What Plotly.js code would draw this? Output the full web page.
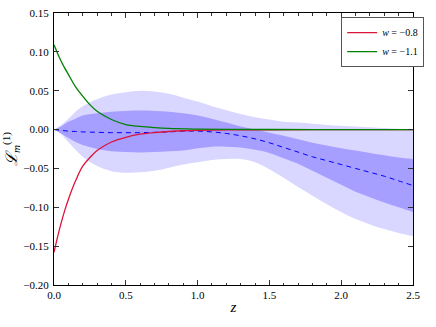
<!DOCTYPE html>
<html><head><meta charset="utf-8">
<script src="https://cdn.plot.ly/plotly-3.0.1.min.js"></script>
<style>html,body{margin:0;padding:0;background:#fff}#chart{width:436px;height:327px}</style>
</head><body><div id="chart"></div>
<script>
// band grid (z) and band edges
const zBand = [0,0.05,0.1,0.15,0.2,0.3,0.4,0.5,0.6,0.7,0.8,0.9,1.0,1.1,1.2,1.3,1.4,1.5,1.6,1.7,1.8,1.9,2.0,2.1,2.2,2.3,2.4,2.5];
const outerHi = [0,0.006,0.014,0.023,0.030,0.039,0.045,0.048,0.050,0.049,0.046,0.041,0.036,0.030,0.025,0.020,0.016,0.013,0.010,0.009,0.0075,0.006,0.005,0.004,0.003,0.002,0.001,0.0005];
const outerLo = [0,-0.006,-0.016,-0.026,-0.035,-0.047,-0.0535,-0.0555,-0.055,-0.053,-0.049,-0.045,-0.042,-0.039,-0.038,-0.038,-0.042,-0.051,-0.062,-0.074,-0.085,-0.096,-0.106,-0.115,-0.122,-0.128,-0.133,-0.137];
const innerHi = [0,0.004,0.010,0.014,0.018,0.021,0.023,0.024,0.0245,0.024,0.023,0.021,0.018,0.014,0.009,0.004,0.000,-0.004,-0.008,-0.0125,-0.017,-0.0205,-0.024,-0.027,-0.030,-0.033,-0.036,-0.038];
const innerLo = [0,-0.005,-0.011,-0.016,-0.020,-0.025,-0.028,-0.029,-0.0295,-0.029,-0.028,-0.027,-0.024,-0.022,-0.022,-0.023,-0.026,-0.030,-0.037,-0.044,-0.053,-0.062,-0.071,-0.080,-0.087,-0.094,-0.100,-0.106];
const center = [0,-0.001,-0.002,-0.0025,-0.003,-0.0035,-0.004,-0.004,-0.004,-0.0035,-0.003,-0.002,-0.002,-0.003,-0.005,-0.008,-0.012,-0.017,-0.023,-0.029,-0.035,-0.040,-0.045,-0.050,-0.055,-0.060,-0.066,-0.072];
// model curves
const zLine = [0,0.025,0.05,0.075,0.1,0.15,0.2,0.25,0.3,0.4,0.5,0.6,0.7,0.8,0.9,1.0,1.2,1.5,2.0,2.5];
const red08 = [-0.158,-0.138,-0.120,-0.104,-0.090,-0.066,-0.047,-0.036,-0.027,-0.016,-0.010,-0.006,-0.004,-0.0025,-0.0015,-0.001,-0.0005,-0.0002,0,0];
const green11 = [0.109,0.098,0.088,0.079,0.071,0.055,0.043,0.032,0.0235,0.013,0.0065,0.004,0.0025,0.0015,0.001,0.0005,0.0003,0.0001,0,0];
const names = ['<i>w</i> = −0.8','<i>w</i> = −1.1'];
const xTicks = [0,0.5,1.0,1.5,2.0,2.5];
const xTickText = ['0.0','0.5','1.0','1.5','2.0','2.5'];
const yTicks = [-0.20,-0.15,-0.10,-0.05,0,0.05,0.10,0.15];
const yTickText = ['−0.20','−0.15','−0.10','−0.05','0.00','0.05','0.10','0.15'];

const light = '#d9d6ff', dark = '#a79fff';
const traces = [
  {x:zBand,y:outerLo,mode:'lines',line:{width:0,color:light,shape:'spline'},showlegend:false,hoverinfo:'skip'},
  {x:zBand,y:outerHi,mode:'lines',line:{width:0,color:light,shape:'spline'},fill:'tonexty',fillcolor:light,showlegend:false,hoverinfo:'skip'},
  {x:zBand,y:innerLo,mode:'lines',line:{width:0,color:dark,shape:'spline'},showlegend:false,hoverinfo:'skip'},
  {x:zBand,y:innerHi,mode:'lines',line:{width:0,color:dark,shape:'spline'},fill:'tonexty',fillcolor:dark,showlegend:false,hoverinfo:'skip'},
  {x:zBand,y:center,mode:'lines',line:{color:'#0000ff',width:1,dash:'5px,4px',shape:'spline'},showlegend:false},
  {x:zLine,y:red08,mode:'lines',name:names[0],line:{color:'#dc143c',width:1.3,shape:'spline'}},
  {x:zLine,y:green11,mode:'lines',name:names[1],line:{color:'#008000',width:1.3,shape:'spline'}}
];
const serif = 'Liberation Serif, DejaVu Serif, serif';
const tickFont = {family:serif,size:11,color:'#000'};
const layout = {
  width:436,height:327,
  margin:{l:54,r:18,t:13,b:42},
  paper_bgcolor:'#fff',plot_bgcolor:'#fff',
  font:tickFont,
  showlegend:true,
  legend:{x:0.80,y:0.985,xanchor:'left',yanchor:'top',bgcolor:'#fff',bordercolor:'#555',borderwidth:1,traceorder:'normal',
          font:{family:serif,size:10,color:'#000'},tracegroupgap:0,itemwidth:30},
  xaxis:{range:[0,2.5],tickvals:xTicks,ticktext:xTickText,ticks:'inside',ticklen:5,tickcolor:'#333',
         showline:true,linecolor:'#000',linewidth:1,mirror:'allticks',showgrid:false,zeroline:false,
         minor:{dtick:0.1,ticks:'inside',ticklen:2.5,tickcolor:'#333',showgrid:false},
         tickfont:tickFont,ticklabelstandoff:0,
         title:{text:'<i>z</i>',font:{family:serif,size:15,color:'#000'},standoff:1}},
  yaxis:{range:[-0.20,0.15],tickvals:yTicks,ticktext:yTickText,ticks:'inside',ticklen:5,tickcolor:'#333',
         showline:true,linecolor:'#000',linewidth:1,mirror:'allticks',showgrid:false,zeroline:false,
         tickfont:tickFont,ticklabelstandoff:2,
         title:{text:'<i>ℒ</i><sub><i>m</i></sub><sup>(1)</sup>',font:{family:serif,size:16,color:'#000'},standoff:4}}
};
Plotly.newPlot('chart',traces,layout,{displayModeBar:false,staticPlot:true});
</script></body></html>
